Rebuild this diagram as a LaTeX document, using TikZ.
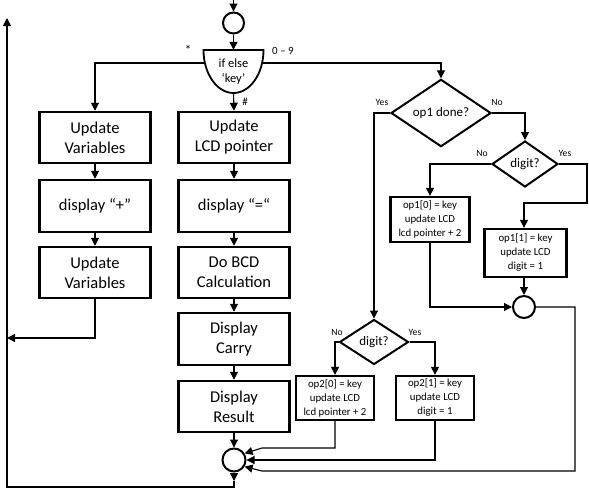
\documentclass[tikz,border=0pt]{standalone}
\usepackage{fontspec}
\setmainfont{Carlito}
\usetikzlibrary{arrows.meta,shapes.geometric}
\begin{document}
\begin{tikzpicture}[x=1pt,y=-1pt,
  conn/.style={line width=1.1pt},
  arr/.style={conn,-{Triangle[length=8pt,width=8pt]}},
  bigbox/.style={draw,line width=2.5pt,minimum width=111pt,minimum height=51pt,inner sep=0pt,align=center,font=\fontsize{16.5}{20}\selectfont},
  smallbox/.style={draw,line width=2.3pt,minimum width=79pt,minimum height=45pt,inner sep=0pt,align=center,font=\fontsize{10.8}{14}\selectfont},
  dec/.style={draw,diamond,line width=2pt,inner sep=0pt,font=\fontsize{13}{15}\selectfont},
  joint/.style={draw,circle,line width=2pt,inner sep=0pt},
  lab/.style={inner sep=0pt,font=\fontsize{9.6}{11}\selectfont},
  keylab/.style={inner sep=0pt,font=\fontsize{11}{13}\selectfont}]
\useasboundingbox (0,0) rectangle (589,490);
% top
\coordinate (entry) at (233.5,0);
\node[joint,minimum size=21pt] (c0) at (233.5,23) {};
\draw[line width=1.8pt] (203.5,50) -- (263.5,50) arc[start angle=0,end angle=-180,x radius=30pt,y radius=43pt] -- cycle;
\node[inner sep=0pt,minimum width=60pt,minimum height=43pt,align=center,font=\fontsize{12.5}{15}\selectfont] (ifk) at (233.5,71.5) {if else\\‘key’};
\coordinate (ifL) at (205,63);
\coordinate (ifR) at (262,63);
\node[inner sep=0pt,font=\fontsize{13}{13}\selectfont] (lstar) at (188,50) {*};
\node[keylab] (l09) at (283,51) {0 – 9};
\node[keylab] (lhash) at (245,102) {\#};
% left column
\node[bigbox] (uv1) at (95,137.5) {Update\\Variables};
\node[bigbox,minimum height=52pt] (dp) at (95,206) {display “+”};
\node[bigbox] (uv2) at (95,272.5) {Update\\Variables};
% center column
\node[bigbox] (lcd) at (234,137.5) {Update\\LCD pointer};
\node[bigbox,minimum height=52pt] (de) at (234,206) {display “=“};
\node[bigbox] (bcd) at (234,272.5) {Do BCD\\Calculation};
\node[bigbox,minimum height=52pt] (car) at (234,339) {Display\\Carry};
\node[bigbox] (res) at (234,406.5) {Display\\Result};
\node[joint,minimum size=23pt] (cb) at (234,460) {};
\coordinate (cbdown) at (234,481);
\coordinate (lb) at (7,487);
\coordinate (lt) at (7,18);
\coordinate (ret) at (7,338);
% right part
\node[dec,minimum width=100pt,minimum height=56pt] (op1) at (441,113) {op1 done?};
\node[dec,minimum width=66pt,minimum height=46pt] (dg1) at (525,164) {digit?};
\node[dec,minimum width=69pt,minimum height=45pt] (dg2) at (374,342) {digit?};
\node[smallbox] (op10) at (430,219.5) {op1[0] = key\\update LCD\\lcd pointer + 2};
\node[smallbox,minimum width=82pt,minimum height=48pt] (op11) at (525.5,253) {op1[1] = key\\update LCD\\digit = 1};
\node[joint,minimum size=22pt] (m1) at (524,307) {};
\node[smallbox,minimum width=78pt,minimum height=44pt] (op20) at (335,398) {op2[0] = key\\update LCD\\lcd pointer + 2};
\node[smallbox,minimum width=78pt,minimum height=44pt] (op21) at (435,398) {op2[1] = key\\update LCD\\digit = 1};
\coordinate (k1) at (587,203);
\coordinate (k2) at (575,471);
\coordinate (k3) at (262,471);
\coordinate (k4) at (262,448);
% labels
\node[lab] (y1) at (382,102) {Yes};
\node[lab] (n1) at (497,102) {No};
\node[lab] (n2) at (482,153) {No};
\node[lab] (y2) at (565,153) {Yes};
\node[lab] (n3) at (337,332) {No};
\node[lab] (y3) at (415,332) {Yes};
% connectors
\draw[arr] (entry) -- (c0);
\draw[arr] (c0) -- (ifk.north);
\draw[arr] (ifL) -| (uv1.north);
\draw[arr] (ifR) -| (op1.north);
\draw[arr] (ifk.south) -- (lcd.north);
\draw[arr] (uv1) -- (dp);
\draw[arr] (dp) -- (uv2);
\draw[arr] (lcd) -- (de);
\draw[arr] (de) -- (bcd);
\draw[arr] (bcd) -- (car);
\draw[arr] (car) -- (res);
\draw[arr] (res) -- (cb);
\draw[arr] (uv2.south) |- (ret);
\draw[arr] (cb) -- (cbdown);
\draw[arr] (cbdown) |- (lb) -- (lt);
\draw[arr] (op1.west) -| (dg2.north);
\draw[arr] (op1.east) -| (dg1.north);
\draw[arr] (dg1.west) -| (op10.north);
\draw[arr] (dg1.east) -| (k1) -| ([xshift=-1.5pt]op11.north);
\draw[arr] ([xshift=-1.5pt]op11.south) -- (m1);
\draw[arr] (op10.south) |- (m1.west);
\draw[arr] (m1.east) -| (k2) -- (k3) -- (cb.-32);
\draw[arr] (dg2.west) -| (op20.north);
\draw[arr] (dg2.east) -| (op21.north);
\draw[arr] (op20.south) |- (k4) -- (cb.32);
\draw[arr] (op21.south) |- (cb.east);
\end{tikzpicture}
\end{document}
